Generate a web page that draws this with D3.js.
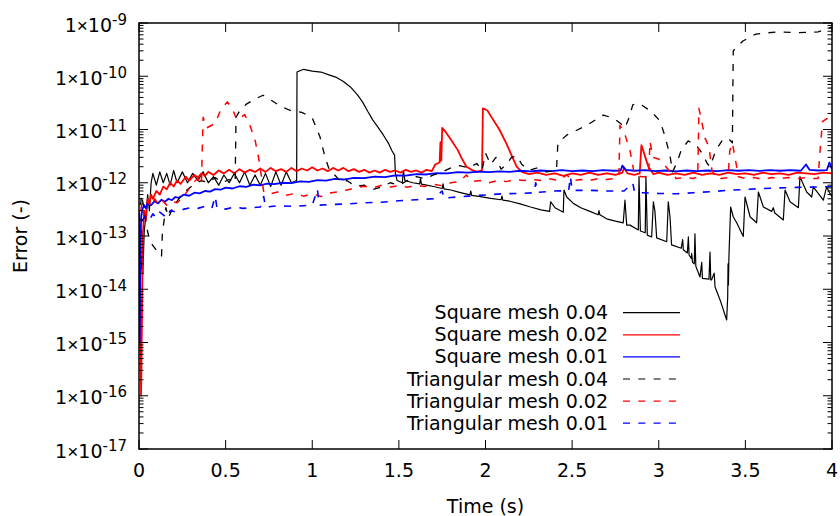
<!DOCTYPE html>
<html><head><meta charset="utf-8">
<script src="https://cdn.jsdelivr.net/npm/d3@7"></script>
<style>
body{margin:0;background:#fff}
svg{display:block}
text{font-family:"DejaVu Sans",sans-serif;fill:#000}
</style>
</head><body>
<svg id="chart" width="840" height="516"></svg>
<script>
// ---------- tick labels ----------
const xTicks = [0, 0.5, 1, 1.5, 2, 2.5, 3, 3.5, 4];
const xTickLabels = ["0", "0.5", "1", "1.5", "2", "2.5", "3", "3.5", "4"];
const yExponents = [-17, -16, -15, -14, -13, -12, -11, -10, -9];
const xTitle = "Time (s)";
const yTitle = "Error (-)";

// ---------- series: [time (s), error (-)] ----------
const squareMesh004 = [
 [0.000,1.5e-13],[0.008,8e-14],[0.015,2.5e-14],[0.022,1.9e-14],[0.030,1.2e-13],[0.040,2.5e-13],[0.050,6e-13],[0.060,3e-13],
 [0.070,1.0e-12],[0.080,1.5e-12],[0.100,9e-13],[0.120,1.6e-12],[0.140,1.0e-12],[0.160,1.5e-12],[0.180,9e-13],[0.200,1.7e-12],
 [0.220,1.0e-12],[0.250,1.6e-12],[0.280,1.0e-12],[0.310,1.5e-12],[0.340,1.1e-12],[0.370,1.6e-12],[0.400,1.0e-12],[0.430,1.3e-12],
 [0.460,9e-13],[0.490,1.4e-12],[0.520,1.0e-12],[0.550,1.5e-12],[0.580,1.0e-12],[0.610,1.6e-12],[0.640,9e-13],[0.670,1.4e-12],
 [0.700,9e-13],[0.730,1.5e-12],[0.760,8.5e-13],[0.790,1.6e-12],[0.820,9e-13],[0.850,1.6e-12],[0.880,1.0e-12],[0.910,1.1e-12],
 [0.912,1.2e-10],[0.950,1.35e-10],[1.000,1.25e-10],[1.050,1.2e-10],[1.100,1.05e-10],[1.140,9.5e-11],[1.180,8e-11],[1.220,6.3e-11],
 [1.260,4.5e-11],[1.290,3.3e-11],[1.320,2.2e-11],[1.350,1.5e-11],[1.380,1.1e-11],[1.410,7.9e-12],[1.440,5.5e-12],[1.460,4e-12],
 [1.475,3.3e-12],[1.480,1.5e-12],[1.490,1.1e-12],[1.520,1.0e-12],[1.526,1.7e-12],[1.535,1.1e-12],[1.580,1.0e-12],[1.620,9.5e-13],
 [1.625,1.2e-12],[1.630,9.4e-13],[1.660,9e-13],[1.700,8.5e-13],[1.750,7.8e-13],[1.755,9.5e-13],[1.760,7.7e-13],[1.800,7.3e-13],
 [1.850,6.6e-13],[1.910,5.9e-13],[1.915,7e-13],[1.920,5.8e-13],[1.970,5.5e-13],[2.030,5.1e-13],[2.090,4.8e-13],[2.095,5.6e-13],
 [2.100,4.7e-13],[2.140,4.5e-13],[2.200,4e-13],[2.260,3.5e-13],[2.320,3.1e-13],[2.370,2.9e-13],[2.376,4.4e-13],[2.401,3.4e-13],
 [2.449,2.8e-13],[2.453,7.3e-13],[2.469,5.4e-13],[2.507,4.1e-13],[2.550,3.4e-13],[2.603,2.9e-13],[2.650,2.5e-13],[2.655,3e-13],
 [2.660,2.5e-13],[2.699,2.1e-13],[2.750,1.9e-13],[2.795,1.77e-13],[2.805,4.7e-13],[2.815,1.6e-13],[2.834,1.6e-13],[2.882,1.3e-13],
 [2.886,1.3e-12],[2.894,1.24e-13],[2.922,1.15e-13],[2.926,1.3e-12],[2.934,1.04e-13],[2.959,9.6e-14],[2.969,4.4e-13],[2.978,2.9e-13],
 [2.988,9.2e-14],[3.046,7.8e-14],[3.055,4.4e-13],[3.065,2.3e-13],[3.074,6.8e-14],[3.130,5.9e-14],[3.138,8.6e-14],[3.142,5.5e-14],
 [3.165,4.8e-14],[3.171,9.6e-14],[3.175,4.4e-14],[3.188,3.8e-14],[3.190,4.7e-14],[3.195,3.2e-14],[3.205,3e-14],[3.209,1.1e-13],
 [3.214,2.7e-14],[3.238,1.7e-14],[3.248,3.2e-14],[3.252,1.6e-14],[3.290,1.55e-14],[3.296,5e-14],[3.300,1.5e-14],[3.305,1.5e-14],
 [3.320,2e-14],[3.325,1.1e-14],[3.354,6.3e-15],[3.392,2.65e-15],[3.398,7.2e-15],[3.400,3e-14],[3.402,1.2e-14],[3.405,4e-14],
 [3.415,3.5e-13],[3.430,2.3e-13],[3.450,1.77e-13],[3.488,9.8e-14],[3.498,5.4e-13],[3.527,2.3e-13],[3.565,1.77e-13],[3.575,6.7e-13],
 [3.604,3.5e-13],[3.652,2.9e-13],[3.661,3.4e-13],[3.670,2.7e-13],[3.719,2.0e-13],[3.729,7.3e-13],[3.758,4.4e-13],[3.806,3.4e-13],
 [3.815,1.3e-12],[3.854,6.7e-13],[3.883,5.4e-13],[3.892,8.4e-13],[3.950,4.7e-13],[3.969,8.4e-13],[3.988,6.3e-13],[4.000,5.5e-13]
];
const squareMesh002 = [
 [0.000,3e-13],[0.006,2e-14],[0.012,1e-16],[0.018,5e-15],[0.022,1e-13],[0.030,3e-13],[0.040,2e-13],[0.050,5e-13],[0.060,4e-13],
 [0.070,6e-13],[0.080,5e-13],[0.100,7e-13],[0.120,6e-13],[0.140,8.5e-13],[0.160,7.5e-13],[0.180,1.0e-12],[0.200,8.5e-13],
 [0.220,1.1e-12],[0.240,9.5e-13],[0.270,1.3e-12],[0.290,1.1e-12],[0.320,1.4e-12],[0.340,1.25e-12],[0.360,1.5e-12],[0.380,1.35e-12],
 [0.400,1.6e-12],[0.430,1.4e-12],[0.460,1.7e-12],[0.490,1.5e-12],[0.520,1.75e-12],[0.550,1.5e-12],[0.580,1.8e-12],[0.610,1.55e-12],
 [0.640,1.75e-12],[0.670,1.6e-12],[0.700,1.85e-12],[0.730,1.6e-12],[0.760,1.9e-12],[0.790,1.65e-12],[0.820,1.8e-12],[0.850,1.6e-12],
 [0.880,1.9e-12],[0.910,1.65e-12],[0.940,1.85e-12],[0.970,1.7e-12],[1.000,1.95e-12],[1.030,1.7e-12],[1.060,1.85e-12],[1.090,1.65e-12],
 [1.120,1.9e-12],[1.150,1.7e-12],[1.180,1.9e-12],[1.210,1.65e-12],[1.240,1.8e-12],[1.270,1.6e-12],[1.300,1.75e-12],[1.330,1.55e-12],
 [1.360,1.7e-12],[1.390,1.55e-12],[1.420,1.75e-12],[1.450,1.6e-12],[1.480,1.7e-12],[1.510,1.55e-12],[1.540,1.75e-12],[1.570,1.6e-12],
 [1.600,1.7e-12],[1.630,1.55e-12],[1.660,1.75e-12],[1.690,1.65e-12],[1.710,2.2e-12],[1.735,2.4e-12],[1.740,5.8e-12],[1.745,2.6e-12],
 [1.750,1.07e-11],[1.770,9e-12],[1.800,6.5e-12],[1.840,4.1e-12],[1.860,3.0e-12],[1.890,2.0e-12],[1.920,1.75e-12],[1.950,1.6e-12],
 [1.980,1.7e-12],[1.985,2.5e-11],[2.010,2.3e-11],[2.040,1.6e-11],[2.080,1.0e-11],[2.120,5.5e-12],[2.150,3.3e-12],[2.180,2.0e-12],
 [2.210,1.6e-12],[2.250,1.45e-12],[2.300,1.55e-12],[2.350,1.4e-12],[2.400,1.5e-12],[2.450,1.35e-12],[2.500,1.5e-12],[2.550,1.4e-12],
 [2.600,1.55e-12],[2.650,1.4e-12],[2.700,1.5e-12],[2.750,1.4e-12],[2.790,1.55e-12],[2.800,1.9e-12],[2.820,1.5e-12],[2.860,1.4e-12],
 [2.890,1.5e-12],[2.900,5.1e-12],[2.920,3.2e-12],[2.940,2.0e-12],[2.970,1.45e-12],[3.000,1.55e-12],[3.050,1.4e-12],[3.100,1.5e-12],
 [3.150,1.4e-12],[3.200,1.55e-12],[3.250,1.4e-12],[3.300,1.5e-12],[3.350,1.4e-12],[3.400,1.55e-12],[3.450,1.45e-12],[3.500,1.5e-12],
 [3.550,1.4e-12],[3.600,1.55e-12],[3.650,1.45e-12],[3.700,1.5e-12],[3.750,1.4e-12],[3.800,1.55e-12],[3.850,1.5e-12],[3.900,1.45e-12],
 [3.950,1.55e-12],[4.000,1.5e-12]
];
const squareMesh001 = [
 [0.000,2.5e-13],[0.004,1e-15],[0.008,4e-14],[0.012,2.2e-13],[0.020,3.2e-13],[0.030,3.8e-13],[0.040,3.3e-13],[0.050,4.2e-13],
 [0.070,3.8e-13],[0.090,4.5e-13],[0.110,4.1e-13],[0.130,4.8e-13],[0.150,4.4e-13],[0.170,5.0e-13],[0.190,4.7e-13],[0.210,5.4e-13],
 [0.230,5.2e-13],[0.260,6.0e-13],[0.290,5.7e-13],[0.320,6.5e-13],[0.350,6.3e-13],[0.380,7.0e-13],[0.410,6.8e-13],[0.440,7.6e-13],
 [0.470,7.4e-13],[0.500,8.1e-13],[0.540,7.8e-13],[0.580,8.6e-13],[0.620,8.4e-13],[0.660,9.2e-13],[0.700,8.9e-13],[0.740,9.6e-13],
 [0.780,9.4e-13],[0.830,1.0e-12],[0.880,9.8e-13],[0.930,1.06e-12],[0.980,1.04e-12],[1.030,1.12e-12],[1.080,1.1e-12],[1.130,1.18e-12],
 [1.180,1.15e-12],[1.240,1.24e-12],[1.300,1.22e-12],[1.360,1.3e-12],[1.420,1.28e-12],[1.480,1.38e-12],[1.540,1.36e-12],[1.600,1.45e-12],
 [1.660,1.43e-12],[1.720,1.52e-12],[1.780,1.5e-12],[1.840,1.58e-12],[1.900,1.55e-12],[1.960,1.62e-12],[2.020,1.58e-12],[2.080,1.64e-12],
 [2.140,1.6e-12],[2.200,1.68e-12],[2.260,1.64e-12],[2.320,1.7e-12],[2.380,1.66e-12],[2.440,1.72e-12],[2.500,1.66e-12],[2.560,1.7e-12],
 [2.620,1.65e-12],[2.680,1.72e-12],[2.740,1.68e-12],[2.780,1.7e-12],[2.790,2.1e-12],[2.810,1.75e-12],[2.860,1.68e-12],[2.920,1.72e-12],
 [2.980,1.66e-12],[3.040,1.7e-12],[3.100,1.64e-12],[3.160,1.7e-12],[3.220,1.65e-12],[3.280,1.7e-12],[3.340,1.66e-12],[3.400,1.72e-12],
 [3.460,1.68e-12],[3.520,1.72e-12],[3.580,1.67e-12],[3.640,1.72e-12],[3.700,1.68e-12],[3.760,1.72e-12],[3.820,1.68e-12],[3.850,2.2e-12],
 [3.870,1.75e-12],[3.920,1.7e-12],[3.970,1.72e-12],[3.985,2.4e-12],[4.000,1.8e-12]
];
const triangularMesh004 = [
 [0.000,2e-13],[0.015,6e-13],[0.030,3e-13],[0.050,1.2e-13],[0.065,7.7e-14],[0.090,6e-14],[0.120,4.5e-14],[0.130,4.2e-14],
 [0.135,1.15e-13],[0.155,3.4e-13],[0.170,2.2e-13],[0.200,3.7e-13],[0.240,5.5e-13],[0.280,7.5e-13],[0.320,9.5e-13],[0.360,1.1e-12],
 [0.400,1.0e-12],[0.440,1.25e-12],[0.480,1.0e-12],[0.520,1.15e-12],[0.555,1.0e-12],[0.560,1.7e-11],[0.583,2.3e-11],[0.620,3.0e-11],
 [0.660,3.6e-11],[0.716,4.4e-11],[0.760,3.6e-11],[0.820,2.7e-11],[0.870,2.3e-11],[0.940,2.1e-11],[1.000,1.65e-11],[1.045,7.2e-12],
 [1.074,3.0e-12],[1.100,1.7e-12],[1.130,1.4e-12],[1.170,1.0e-12],[1.200,1.1e-12],[1.250,8.5e-13],[1.300,9e-13],[1.350,7.5e-13],
 [1.400,8.3e-13],[1.450,1.0e-12],[1.500,9e-13],[1.550,1.1e-12],[1.600,1.3e-12],[1.650,1.2e-12],[1.700,1.4e-12],[1.750,1.6e-12],
 [1.800,1.9e-12],[1.850,2.1e-12],[1.900,1.9e-12],[1.950,2.3e-12],[1.980,1.7e-12],[2.000,3.6e-12],[2.030,2.2e-12],[2.060,3.0e-12],
 [2.090,1.8e-12],[2.120,2.2e-12],[2.150,3.0e-12],[2.180,3.2e-12],[2.210,2.2e-12],[2.250,1.7e-12],[2.300,1.9e-12],[2.350,1.6e-12],
 [2.410,1.7e-12],[2.413,2.9e-12],[2.418,5.6e-12],[2.470,7.9e-12],[2.530,9.8e-12],[2.585,1.2e-11],[2.680,1.87e-11],[2.736,1.64e-11],
 [2.780,1.3e-11],[2.805,1.07e-11],[2.830,1.7e-11],[2.850,2.9e-11],[2.880,3.1e-11],[2.900,2.9e-11],[2.955,2.2e-11],[3.007,1.45e-11],
 [3.036,7.5e-12],[3.065,3.2e-12],[3.080,1.6e-12],[3.105,2.4e-12],[3.130,4.1e-12],[3.170,6.1e-12],[3.220,4.9e-12],[3.250,3.6e-12],
 [3.280,2.3e-12],[3.296,2.0e-12],[3.330,4.1e-12],[3.365,6.1e-12],[3.400,6.9e-12],[3.425,5.6e-12],[3.430,3.0e-10],[3.486,4.6e-10],
 [3.560,6.2e-10],[3.680,6.8e-10],[3.800,6.6e-10],[3.920,6.8e-10],[4.000,8.4e-10]
];
const triangularMesh002 = [
 [0.000,1.5e-13],[0.015,4e-13],[0.030,2.5e-13],[0.050,4.5e-13],[0.070,3.5e-13],[0.090,5e-13],[0.110,4e-13],[0.130,4.8e-13],
 [0.160,3.8e-13],[0.190,4.5e-13],[0.220,4.2e-13],[0.250,5.2e-13],[0.280,7e-13],[0.310,1.0e-12],[0.340,1.2e-12],[0.360,9e-13],
 [0.370,1.7e-11],[0.390,1.07e-11],[0.440,1.3e-11],[0.470,2.3e-11],[0.510,3.3e-11],[0.540,2.4e-11],[0.565,1.5e-11],[0.610,1.9e-11],
 [0.640,1.2e-11],[0.670,6.3e-12],[0.690,3.0e-12],[0.720,6.7e-13],[0.760,6.2e-13],[0.800,6.7e-13],[0.850,5.8e-13],[0.900,6.3e-13],
 [0.950,5.6e-13],[1.000,6.2e-13],[1.050,5.5e-13],[1.100,6.4e-13],[1.150,6.8e-13],[1.200,7.3e-13],[1.250,8e-13],[1.300,8.6e-13],
 [1.350,8e-13],[1.400,9e-13],[1.450,8.3e-13],[1.500,8.8e-13],[1.550,8.2e-13],[1.600,9e-13],[1.650,8.5e-13],[1.700,9.3e-13],
 [1.750,8.8e-13],[1.800,1.0e-12],[1.850,1.05e-12],[1.890,1.4e-12],[1.920,1.05e-12],[1.970,1.1e-12],[2.020,1.0e-12],[2.070,1.1e-12],
 [2.120,1.05e-12],[2.170,1.15e-12],[2.220,1.1e-12],[2.270,1.15e-12],[2.320,1.1e-12],[2.360,1.2e-12],[2.420,1.1e-12],[2.470,1.4e-12],
 [2.500,1.1e-12],[2.550,1.15e-12],[2.600,1.1e-12],[2.650,1.2e-12],[2.700,1.15e-12],[2.750,1.2e-12],[2.770,1.3e-12],[2.776,1.2e-11],
 [2.805,8e-12],[2.834,4e-12],[2.860,1.4e-12],[2.900,1.3e-12],[2.940,1.3e-12],[2.950,6e-12],[2.965,3e-12],[3.000,2.8e-12],
 [3.030,2.2e-12],[3.060,1.7e-12],[3.080,1.6e-12],[3.100,1.2e-12],[3.150,1.25e-12],[3.200,1.2e-12],[3.225,1.3e-12],[3.232,2.5e-11],
 [3.250,1.3e-11],[3.267,6.9e-12],[3.290,4.7e-12],[3.307,1.7e-12],[3.330,1.3e-12],[3.360,1.2e-12],[3.400,1.25e-12],[3.410,4e-12],
 [3.425,5.6e-12],[3.440,3e-12],[3.460,1.3e-12],[3.500,1.2e-12],[3.550,1.25e-12],[3.600,1.15e-12],[3.650,1.25e-12],[3.700,1.2e-12],
 [3.750,1.25e-12],[3.800,1.2e-12],[3.850,1.25e-12],[3.900,1.2e-12],[3.920,1.2e-12],[3.930,3.6e-12],[3.945,1.4e-11],[3.970,1.6e-11],
 [4.000,1.7e-11]
];
const triangularMesh001 = [
 [0.000,2e-13],[0.010,1e-13],[0.020,2e-13],[0.040,2.4e-13],[0.060,2.0e-13],[0.080,2.6e-13],[0.100,2.2e-13],[0.120,2.8e-13],
 [0.140,2.5e-13],[0.160,2.2e-13],[0.180,3e-13],[0.220,2.8e-13],[0.260,3.2e-13],[0.300,3.4e-13],[0.340,3.3e-13],[0.380,3.6e-13],
 [0.420,3.3e-13],[0.440,5.5e-13],[0.450,3.4e-13],[0.500,3.2e-13],[0.550,3.5e-13],[0.600,3.3e-13],[0.700,3.5e-13],[0.720,5.5e-13],
 [0.730,3.5e-13],[0.800,3.7e-13],[0.900,3.6e-13],[1.000,3.8e-13],[1.030,7.5e-13],[1.040,3.8e-13],[1.100,3.9e-13],[1.200,4.0e-13],
 [1.300,4.2e-13],[1.400,4.3e-13],[1.500,4.6e-13],[1.600,4.8e-13],[1.700,5.0e-13],[1.750,7e-13],[1.760,5.1e-13],[1.800,5.3e-13],
 [1.900,5.6e-13],[2.000,5.9e-13],[2.100,6.2e-13],[2.200,6.3e-13],[2.280,6.5e-13],[2.290,1.0e-12],[2.300,6.6e-13],[2.400,7.0e-13],
 [2.480,7.1e-13],[2.490,1.3e-12],[2.500,7.2e-13],[2.600,7.2e-13],[2.700,7.0e-13],[2.800,7.0e-13],[2.850,9.9e-13],[2.860,6.8e-13],
 [2.900,6.5e-13],[3.000,6.3e-13],[3.100,6.2e-13],[3.200,6.5e-13],[3.300,6.8e-13],[3.400,7.2e-13],[3.500,7.5e-13],[3.600,7.8e-13],
 [3.700,8.0e-13],[3.800,8.2e-13],[3.900,8.3e-13],[4.000,8.5e-13]
];

const seriesData = [squareMesh004, squareMesh002, squareMesh001, triangularMesh004, triangularMesh002, triangularMesh001];
const seriesNames = ["Square mesh 0.04", "Square mesh 0.02", "Square mesh 0.01",
                     "Triangular mesh 0.04", "Triangular mesh 0.02", "Triangular mesh 0.01"];

// ---------- styles ----------
const seriesColors = ["#000000", "#ff0000", "#0000ff", "#000000", "#ff0000", "#0000ff"];
const seriesDash = [null, null, null, "7,8.3", "7,8.3", "7,8.3"];
const seriesWidth = [1.2, 1.8, 1.8, 1.3, 1.5, 1.6];

// ---------- layout ----------
const svg = d3.select("#chart");
const L = 139, R = 832, T = 23, B = 449;
const x = d3.scaleLinear().domain([0, 4]).range([L, R]);
const y = d3.scaleLog().domain([1e-17, 1e-9]).range([B, T]);

svg.append("defs").append("clipPath").attr("id", "clip")
  .append("rect").attr("x", L).attr("y", T).attr("width", R - L).attr("height", B - T);

// ---------- data lines ----------
const line = d3.line().x(d => x(d[0])).y(d => y(d[1]));
const gLines = svg.append("g").attr("clip-path", "url(#clip)");
seriesData.forEach((data, i) => {
  gLines.append("path").datum(data)
    .attr("d", line)
    .attr("fill", "none")
    .attr("stroke", seriesColors[i])
    .attr("stroke-width", seriesWidth[i])
    .attr("stroke-linejoin", "round")
    .attr("stroke-dasharray", seriesDash[i]);
});

// ---------- ticks ----------
const gAx = svg.append("g").attr("stroke", "#000").attr("stroke-width", 1);
const majorY = yExponents.map(e => Math.pow(10, e));
const minorY = [];
yExponents.slice(0, -1).forEach(e => { for (let k = 2; k <= 9; k++) minorY.push(k * Math.pow(10, e)); });

function hTicks(vals, len) {
  gAx.selectAll(null).data(vals).enter().append("line")
    .attr("x1", L).attr("x2", L + len).attr("y1", d => y(d)).attr("y2", d => y(d));
  gAx.selectAll(null).data(vals).enter().append("line")
    .attr("x1", R).attr("x2", R - len).attr("y1", d => y(d)).attr("y2", d => y(d));
}
hTicks(majorY, 9);
hTicks(minorY, 4.5);

gAx.selectAll(null).data(xTicks).enter().append("line")
  .attr("x1", d => x(d)).attr("x2", d => x(d)).attr("y1", B).attr("y2", B - 9);
gAx.selectAll(null).data(xTicks).enter().append("line")
  .attr("x1", d => x(d)).attr("x2", d => x(d)).attr("y1", T).attr("y2", T + 9);

// frame
svg.append("rect").attr("x", L).attr("y", T).attr("width", R - L).attr("height", B - T)
  .attr("fill", "none").attr("stroke", "#000").attr("stroke-width", 1.5);

// ---------- tick labels ----------
const fs = 19;
svg.selectAll(null).data(xTicks).enter().append("text")
  .attr("x", d => x(d)).attr("y", 477)
  .attr("text-anchor", "middle").attr("font-size", fs)
  .text((d, i) => xTickLabels[i]);

const yl = svg.selectAll(null).data(yExponents).enter().append("text")
  .attr("x", 127).attr("y", d => y(Math.pow(10, d)) + 8.5)
  .attr("text-anchor", "end").attr("font-size", fs);
yl.append("tspan").text("1");
yl.append("tspan").style("font-family", "'Liberation Sans', sans-serif").text("×");
yl.append("tspan").text("10");
yl.append("tspan").attr("font-size", 15).attr("dy", -7).text(d => String(d));

// ---------- axis titles ----------
svg.append("text").attr("x", (L + R) / 2).attr("y", 513)
  .attr("text-anchor", "middle").attr("font-size", fs).text(xTitle);
svg.append("text").attr("transform", `translate(27,${(T + B) / 2}) rotate(-90)`)
  .attr("text-anchor", "middle").attr("font-size", fs).text(yTitle);

// ---------- legend ----------
const legY0 = 312.7, legDy = 22.1;
const leg = svg.append("g");
seriesNames.forEach((name, i) => {
  const yy = legY0 + i * legDy;
  leg.append("text").attr("x", 608).attr("y", yy + 6.5)
    .attr("text-anchor", "end").attr("font-size", fs).text(name);
  leg.append("line").attr("x1", 623).attr("x2", 680).attr("y1", yy).attr("y2", yy)
    .attr("stroke", seriesColors[i]).attr("stroke-width", 1.2)
    .attr("stroke-dasharray", seriesDash[i]);
});
</script>
</body></html>
